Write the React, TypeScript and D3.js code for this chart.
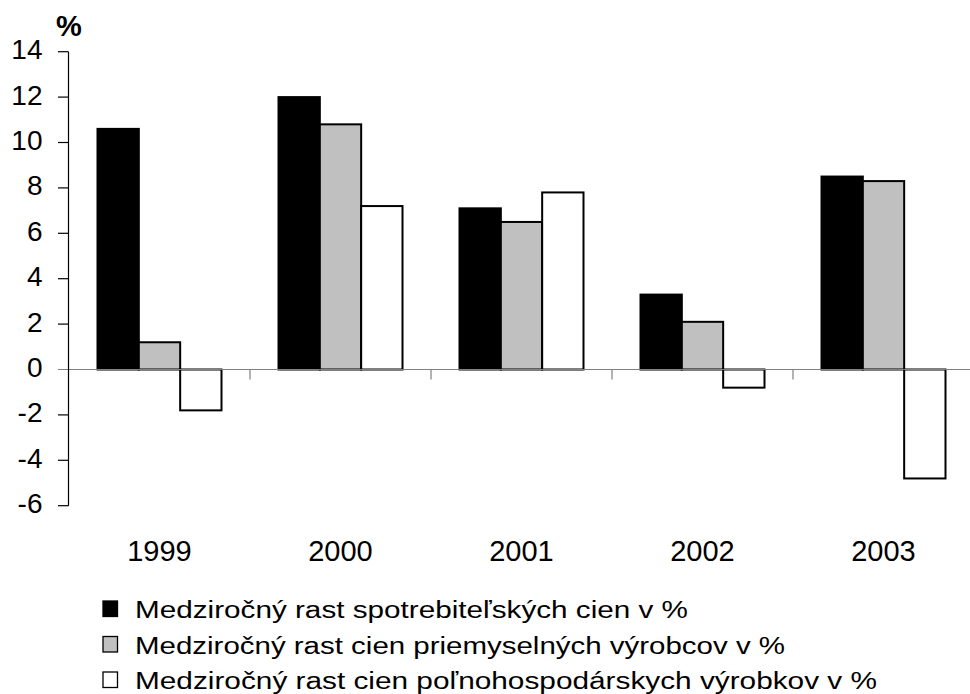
import React from "react";
import * as d3 from "d3";

const categories = ["1999", "2000", "2001", "2002", "2003"];
const seriesNames = [
  "Medziročný rast spotrebiteľských cien v %",
  "Medziročný rast cien priemyselných výrobcov v %",
  "Medziročný rast cien poľnohospodárskych výrobkov v %",
];
const consumer = [10.6, 12.0, 7.1, 3.3, 8.5];
const industrial = [1.2, 10.8, 6.5, 2.1, 8.3];
const agricultural = [-1.8, 7.2, 7.8, -0.8, -4.8];
const yTicks = [-6, -4, -2, 0, 2, 4, 6, 8, 10, 12, 14];

const fills = ["#000000", "#c0c0c0", "#ffffff"];
const legendWidths = [553, 650, 742];

export default function App() {
  const W = 970;
  const H = 694;
  const step = 181;
  const x0 = 69;
  const x = d3
    .scaleBand<string>()
    .domain(categories)
    .range([x0, x0 + step * categories.length])
    .padding(0);
  const inner = d3
    .scaleBand<number>()
    .domain([0, 1, 2])
    .range([28.5, step - 28.5])
    .padding(0);
  const y = d3.scaleLinear().domain([-6, 14]).range([505.7, 51.7]);
  const series = [consumer, industrial, agricultural];
  const axisX = 68.5;
  const font = "'Liberation Sans', Arial, sans-serif";

  return (
    <svg
      width={W}
      height={H}
      style={{ position: "fixed", left: 0, top: 0, background: "#fff" }}
      fontFamily={font}
    >
      <rect x={0} y={0} width={W} height={H} fill="#fff" />
      {/* % label */}
      <text x={56} y={36} fontSize={29} fontWeight="bold" fill="#000">
        %
      </text>
      {/* bars */}
      {series.map((vals, si) =>
        vals.map((v, ci) => {
          const bx = (x(categories[ci]) as number) + (inner(si) as number);
          const top = y(Math.max(0, v));
          const bottom = y(Math.min(0, v));
          return (
            <rect
              key={`${si}-${ci}`}
              x={bx}
              y={top}
              width={inner.bandwidth()}
              height={bottom - top}
              fill={fills[si]}
              stroke="#000"
              strokeWidth={2}
            />
          );
        })
      )}
      {/* zero line */}
      <line x1={58} x2={W} y1={y(0)} y2={y(0)} stroke="#808080" strokeWidth={1.2} />
      {/* category ticks */}
      {categories.slice(1).map((c) => (
        <line
          key={"ct" + c}
          x1={x(c) as number}
          x2={x(c) as number}
          y1={y(0)}
          y2={y(0) + 10}
          stroke="#808080"
          strokeWidth={1.2}
        />
      ))}
      {/* y axis */}
      <line x1={axisX} x2={axisX} y1={y(14)} y2={y(-6)} stroke="#000" strokeWidth={1.2} />
      {yTicks.map((t) => (
        <g key={"yt" + t}>
          {t !== 0 && (
            <line x1={58} x2={axisX} y1={y(t)} y2={y(t)} stroke="#000" strokeWidth={1.2} />
          )}
          <text
            x={42.5}
            y={y(t) + 7.5}
            textAnchor="end"
            fontSize={28}
            fill="#000"
          >
            {t}
          </text>
        </g>
      ))}
      {/* x labels */}
      {categories.map((c) => (
        <text
          key={"xl" + c}
          x={(x(c) as number) + x.bandwidth() / 2}
          y={561}
          textAnchor="middle"
          fontSize={29}
          fill="#000"
        >
          {c}
        </text>
      ))}
      {/* legend */}
      {seriesNames.map((name, i) => {
        const base = 618 + i * 35.5;
        return (
          <g key={"lg" + i}>
            <rect
              x={103}
              y={base - 17}
              width={14.5}
              height={15.5}
              fill={fills[i]}
              stroke="#000"
              strokeWidth={1.3}
            />
            <text
              x={135}
              y={base}
              fontSize={23}
              fill="#000"
              textLength={legendWidths[i]}
              lengthAdjust="spacingAndGlyphs"
            >
              {name}
            </text>
          </g>
        );
      })}
    </svg>
  );
}
